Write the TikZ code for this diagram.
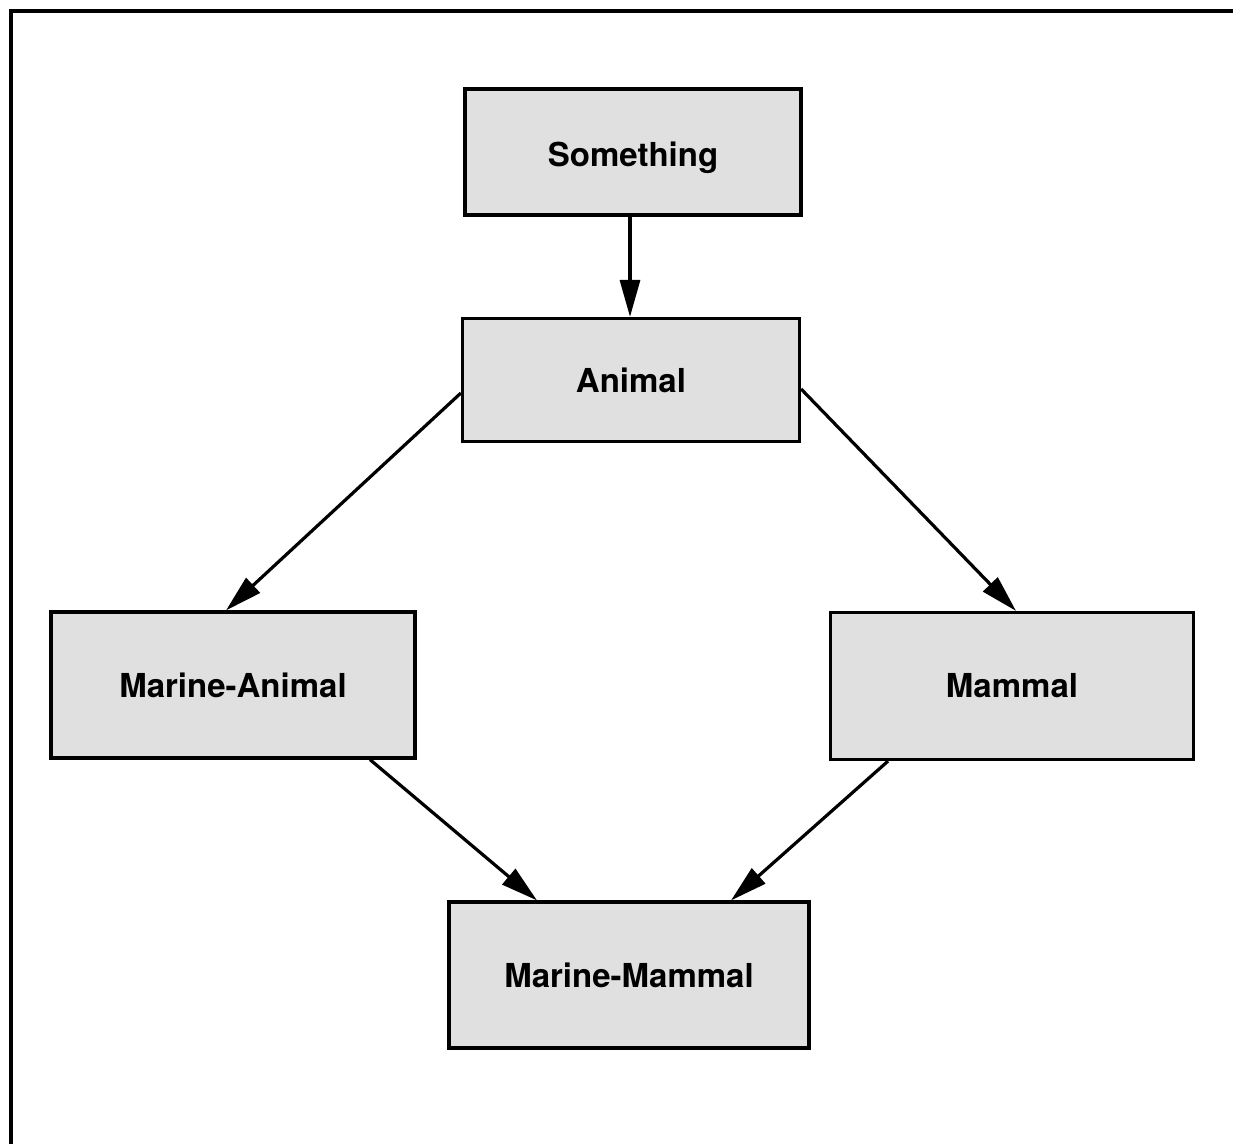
\documentclass[tikz,border=0pt]{standalone}
\usepackage{fontspec}
\setmainfont{TeX Gyre Heros}
\usetikzlibrary{arrows.meta}
\begin{document}
\begin{tikzpicture}[x=1pt,y=-1pt,
  concept/.style={draw=black, line width=3.2pt, fill=black!12, minimum width=#1,
    font=\fontsize{33}{38}\selectfont\bfseries, inner sep=0pt},
  link/.style={line width=3.2pt, -{Triangle[length=37pt,width=20pt]}}]
\useasboundingbox (0,0) rectangle (1233,1144);
% frame lines at the top and left edges
\draw[line width=3.5pt] (11,1144) -- (11,11) -- (1233,11);
% concept boxes
\node[concept=336pt, minimum height=126pt] (something) at (633,152) {\raisebox{-6pt}[\height][\depth]{Something}};
\node[concept=337pt, minimum height=123pt] (animal) at (631,380) {Animal};
\node[concept=364pt, minimum height=146pt] (marine) at (233,685) {Marine-Animal};
\node[concept=363pt, minimum height=147pt] (mammal) at (1012,686) {Mammal};
\node[concept=360pt, minimum height=146pt] (mm) at (629,975) {Marine-Mammal};
% subsumption links
\draw[link] (something.south -| 630,0) -- (animal.north -| 630,0);
\draw[link] (animal.west |- 0,393) -- (marine.north -| 226,0);
\draw[link] (animal.east |- 0,389) -- (mammal.north -| 1016,0);
\draw[link] (marine.south -| 370,0) -- (mm.north -| 537,0);
\draw[link] (mammal.south -| 888,0) -- (mm.north -| 731,0);
\end{tikzpicture}
\end{document}
